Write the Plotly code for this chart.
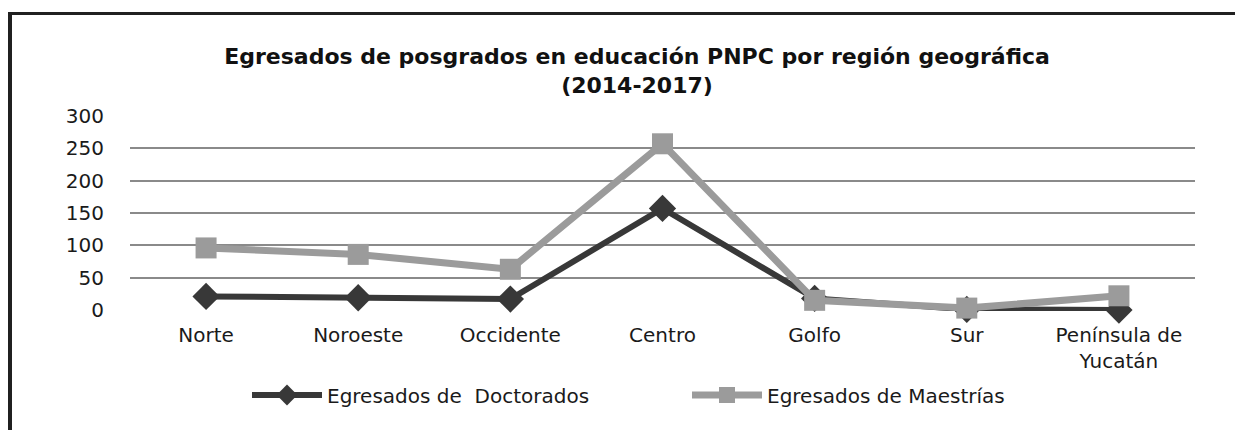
import plotly.graph_objects as go

regions = ["Norte", "Noroeste", "Occidente", "Centro", "Golfo", "Sur", "Península de<br>Yucatán"]
doctorados = [21, 19, 17, 157, 18, 1, 0]
maestrias = [96, 86, 63, 257, 15, 3, 22]
y_ticks = [0, 50, 100, 150, 200, 250, 300]

title_text = "Egresados de posgrados en educación PNPC por región geográfica<br>(2014-2017)"
name_doc = "Egresados de  Doctorados"
name_mae = "Egresados de Maestrías"

# The page body has an 8px margin, so figure coords = page coords - 8
OFF = 8
W, H = 1243 - OFF, 430 - OFF
L, R, T, B = 130 - OFF, 1195 - OFF, 115 - OFF, 311 - OFF

def px_x(p):
    return (p - L) / (R - L)

def px_y(p):
    return (B - p) / (B - T)

fig = go.Figure()
fig.add_trace(go.Scatter(
    x=regions, y=doctorados, name=name_doc, mode="lines+markers",
    line=dict(color="#383838", width=6),
    marker=dict(symbol="diamond", size=21, color="#383838"),
))
fig.add_trace(go.Scatter(
    x=regions, y=maestrias, name=name_mae, mode="lines+markers",
    line=dict(color="#9b9b9b", width=7),
    marker=dict(symbol="square", size=21, color="#9b9b9b"),
))

font_family = "DejaVu Sans"

fig.update_layout(
    width=W, height=H,
    margin=dict(l=L, r=W - R, t=T, b=H - B, pad=0, autoexpand=False),
    paper_bgcolor="white", plot_bgcolor="white",
    font=dict(family=font_family, size=20, color="#1a1a1a"),
    title=dict(
        text=title_text, x=629 / W, xanchor="center",
        y=1 - 56 / H, yanchor="top",
        font=dict(family=font_family, size=22, color="#111111", weight="bold"),
    ),
    showlegend=True,
    legend=dict(
        orientation="h", x=px_x(239), xanchor="left",
        y=px_y(387), yanchor="middle",
        font=dict(family=font_family, size=20, color="#1a1a1a"),
        itemwidth=70, entrywidth=355, entrywidthmode="pixels",
        bgcolor="rgba(0,0,0,0)",
    ),
    xaxis=dict(
        type="category", range=[-0.5, 6.5],
        showgrid=False, zeroline=False, showline=False,
        ticks="outside", ticklen=6, tickcolor="rgba(0,0,0,0)",
        tickfont=dict(family=font_family, size=20, color="#1a1a1a"),
        fixedrange=True,
    ),
    yaxis=dict(
        range=[-1.5, 301.5], tickvals=y_ticks,
        showgrid=True, gridcolor="#8a8a8a", gridwidth=2,
        zeroline=False, showline=False,
        ticks="outside", ticklen=21, tickcolor="rgba(0,0,0,0)",
        tickfont=dict(family=font_family, size=20, color="#1a1a1a"),
        fixedrange=True,
    ),
    shapes=[
        dict(type="line", xref="paper", yref="paper",
             x0=px_x(-2), x1=px_x(W + 5), y0=px_y(5.5), y1=px_y(5.5),
             line=dict(color="#202020", width=3)),
        dict(type="line", xref="paper", yref="paper",
             x0=px_x(1.5), x1=px_x(1.5), y0=px_y(4), y1=px_y(H + 5),
             line=dict(color="#202020", width=5)),
    ],
)
fig.update_traces(cliponaxis=False)

fig.write_html("out.html")
